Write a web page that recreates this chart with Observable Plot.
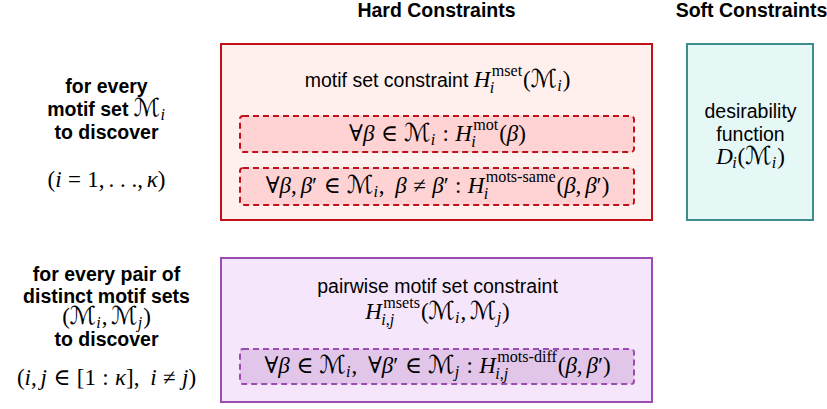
<!DOCTYPE html>
<html><head><meta charset="utf-8">
<script src="https://cdn.jsdelivr.net/npm/d3@7"></script>
<script src="https://cdn.jsdelivr.net/npm/@observablehq/plot@0.6"></script>
<style>
html,body{margin:0;padding:0;background:#fff;}
#chart svg{display:block;}
</style>
</head><body><div id="chart"></div>
<script>
// ---------------- content ----------------
const headers = ["Hard Constraints", "Soft Constraints"];
const scopeLabels = [
  ["for every", "motif set $ℳ_i$", "to discover"],
  ["for every pair of", "distinct motif sets", "$(ℳ_i, ℳ_j)$", "to discover"]
];
const scopeRanges = ["$(i = 1, …, κ)$", "$(i, j ∈ [1 : κ],~ i ≠ j)$"];
const hardTitles = [
  ["motif set constraint $H_i^{\\rm mset}(ℳ_i)$"],
  ["pairwise motif set constraint", "$H_{i,j}^{\\rm msets}(ℳ_i, ℳ_j)$"]
];
const hardParts = [
  ["$∀β ∈ ℳ_i : H_i^{\\rm mot}(β)$", "$∀β, β' ∈ ℳ_i,~ β ≠ β' : H_i^{\\rm mots-same}(β, β')$"],
  ["$∀β ∈ ℳ_i,~ ∀β' ∈ ℳ_j : H_{i,j}^{\\rm mots-diff}(β, β')$"]
];
const softTitles = ["desirability", "function", "$D_i(ℳ_i)$"];

// ---------------- layout (pixel units of the diagram) ----------------
const layout = {
  headerY: 16, headerX: [436, 751],
  labelX: 106,
  scopeY: [[92, 115, 138], [280, 302, 323, 345]],
  rangeY: [186, 384],
  hardX: [221, 652], hardY: [[44, 220], [258, 402]],
  softX: [687, 813], softY: [44, 220],
  partX: [240, 634], partY: [[[116, 152], [168, 205]], [[349, 384]]],
  boxCX: 437, softCX: 750,
  hardTitleY: [[86], [292, 318]],
  partTextY: [[140, 192], [372]],
  softTitleY: [117, 140, 163]
};
const colors = {
  hard: [{stroke: "#c0101a", fill: "#fff0ee", inner: "#ffd3d3"}, {stroke: "#9b4cb0", fill: "#f6e6fc", inner: "#e2c6ea"}],
  soft: {stroke: "#3f8c8c", fill: "#e6f8f6"}
};
const SANS = "'Liberation Sans', Arial, Helvetica, sans-serif";
const SERIF = "'Liberation Serif', 'DejaVu Serif', 'DejaVu Sans', serif";
const CAL = "'DejaVu Sans', 'DejaVu Serif', serif";
const TEXT_SIZE = 19.5, MATH_SIZE = 23, CAL_SCALE = 1.08;

// ---------------- tables built from content + layout ----------------
const outerBoxes = hardTitles.map((_, r) => ({x1: layout.hardX[0], x2: layout.hardX[1], y1: layout.hardY[r][0], y2: layout.hardY[r][1], r}));
const innerBoxes = hardParts.flatMap((parts, r) => parts.map((_, k) => ({x1: layout.partX[0], x2: layout.partX[1], y1: layout.partY[r][k][0], y2: layout.partY[r][k][1], r})));
const softBox = [{x1: layout.softX[0], x2: layout.softX[1], y1: layout.softY[0], y2: layout.softY[1]}];

const labels = [];
headers.forEach((t, k) => labels.push({t, x: layout.headerX[k], y: layout.headerY, bold: true}));
scopeLabels.forEach((lines, r) => lines.forEach((t, k) => labels.push({t, x: layout.labelX, y: layout.scopeY[r][k], bold: true})));
scopeRanges.forEach((t, r) => labels.push({t, x: layout.labelX, y: layout.rangeY[r], bold: false}));
hardTitles.forEach((lines, r) => lines.forEach((t, k) => labels.push({t, x: layout.boxCX, y: layout.hardTitleY[r][k], bold: false})));
hardParts.forEach((lines, r) => lines.forEach((t, k) => labels.push({t, x: layout.boxCX, y: layout.partTextY[r][k], bold: false})));
softTitles.forEach((t, k) => labels.push({t, x: layout.softCX, y: layout.softTitleY[k], bold: false}));

// ---------------- tiny math typesetter ----------------
const ctx = document.createElement("canvas").getContext("2d");
function measure(text, size, family, style = "normal", weight = "normal") {
  ctx.font = `${style} ${weight} ${size}px ${family}`;
  return ctx.measureText(text).width;
}
function mathAtoms(s) {
  const atoms = [];
  let i = 0;
  const readGroup = () => {
    if (s[i] === "{") {
      let depth = 1, j = i + 1;
      while (j < s.length && depth) { if (s[j] === "{") depth++; else if (s[j] === "}") depth--; j++; }
      const g = s.slice(i + 1, j - 1); i = j; return g;
    }
    return s[i++];
  };
  while (i < s.length) {
    const c = s[i];
    if (c === " ") { i++; continue; }
    if (c === "~") { atoms.push({kind: "space", em: 0.3}); i++; continue; }
    if (c === "_" || c === "^") { i++; const g = readGroup(); atoms[atoms.length - 1][c === "_" ? "sub" : "sup"] = g; continue; }
    if (c === "'") { atoms.push({kind: "ord", text: "′", font: "up"}); i++; continue; }
    if (c === "…") { atoms.push({kind: "ord", text: ". . .", font: "up"}); i++; continue; }
    if (c === "ℳ") { atoms.push({kind: "ord", text: c, font: "cal"}); i++; continue; }
    if (/[A-Za-zβκ]/.test(c)) { atoms.push({kind: "ord", text: c, font: "it"}); i++; continue; }
    if (c === ",") { atoms.push({kind: "punct", text: c, font: "up"}); i++; continue; }
    if ("∈=≠:".includes(c)) { atoms.push({kind: "rel", text: c, font: "up"}); i++; continue; }
    atoms.push({kind: "ord", text: c, font: "up"}); i++;
  }
  return atoms;
}
function scriptBox(g, size) {
  if (g.startsWith("\\rm ")) {
    const t = g.slice(4);
    return {runs: [{text: t, x: 0, dy: 0, size, family: SERIF, style: "normal"}], width: measure(t, size, SERIF)};
  }
  return layoutMath(mathAtoms(g), size, true);
}
function layoutMath(atoms, size, script) {
  let x = 0; const runs = [];
  atoms.forEach((a, k) => {
    if (a.kind === "space") { x += a.em * size; return; }
    if (a.kind === "rel" && !script && k > 0) x += 0.2778 * size;
    const fam = a.font === "cal" ? CAL : SERIF;
    const fs = a.font === "cal" ? size * CAL_SCALE : size;
    const style = a.font === "it" ? "italic" : "normal";
    const w = measure(a.text, fs, fam, style);
    runs.push({text: a.text, x, dy: 0, size: fs, family: fam, style});
    x += w;
    if (a.sub || a.sup) {
      const ss = size * 0.7;
      const ic = a.font === "it" ? size * 0.06 : 0;
      let wsup = 0, wsub = 0;
      if (a.sup) {
        const b = scriptBox(a.sup, ss);
        b.runs.forEach(r => runs.push({...r, x: x + ic + r.x, dy: r.dy - size * 0.45}));
        wsup = b.width + ic;
      }
      if (a.sub) {
        const b = scriptBox(a.sub, ss);
        const down = a.sup ? size * 0.3 : size * 0.18;
        b.runs.forEach(r => runs.push({...r, x: x - ic * 0.5 + r.x, dy: r.dy + down}));
        wsub = b.width - ic * 0.5;
      }
      x += Math.max(wsup, wsub) + size * 0.04;
    }
    if (a.kind === "rel" && !script) x += 0.2778 * size;
    if (a.kind === "punct" && !script) x += 0.1667 * size;
  });
  return {runs, width: x};
}
function richRuns(str, bold) {
  const parts = str.split("$");
  let x = 0; const runs = [];
  const weight = bold ? "bold" : "normal";
  parts.forEach((p, k) => {
    if (!p) return;
    if (k % 2 === 0) {
      runs.push({text: p, x, dy: 0, size: TEXT_SIZE, family: SANS, style: "normal", weight});
      x += measure(p, TEXT_SIZE, SANS, "normal", weight);
    } else {
      const b = layoutMath(mathAtoms(p), MATH_SIZE, false);
      b.runs.forEach(r => runs.push({...r, x: x + r.x}));
      x += b.width;
    }
  });
  return {runs, width: x};
}

// ---------------- plot ----------------
const plain = d => d.t.replace(/\$/g, "").replace(/\\rm /g, "").replace(/[{}~]/g, "");
const plot = Plot.plot({
  width: 827, height: 409, margin: 0,
  x: {domain: [0, 827], axis: null},
  y: {domain: [0, 409], reverse: true, axis: null},
  style: {background: "#ffffff", overflow: "visible"},
  marks: [
    ...colors.hard.map((c, r) => Plot.rect(outerBoxes.filter(d => d.r === r), {x1: "x1", x2: "x2", y1: "y1", y2: "y2", fill: c.fill, stroke: c.stroke, strokeWidth: 2})),
    ...colors.hard.map((c, r) => Plot.rect(innerBoxes.filter(d => d.r === r), {x1: "x1", x2: "x2", y1: "y1", y2: "y2", fill: c.inner, stroke: c.stroke, strokeWidth: 2, strokeDasharray: "6,4", rx: 3})),
    Plot.rect(softBox, {x1: "x1", x2: "x2", y1: "y1", y2: "y2", fill: colors.soft.fill, stroke: colors.soft.stroke, strokeWidth: 2}),
    Plot.text(labels, {x: "x", y: "y", text: plain, fontSize: TEXT_SIZE, fill: "#000"})
  ]
});
document.getElementById("chart").appendChild(plot);

// turn each text into positioned runs (sans text + typeset math)
const sx = plot.scale("x"), sy = plot.scale("y");
d3.select(plot).selectAll('g[aria-label="text"] text').each(function(_, k) {
  const d = labels[k];
  const {runs, width} = richRuns(d.t, d.bold);
  const el = d3.select(this);
  el.text(null).attr("x", null).attr("y", null).attr("dy", null)
    .attr("text-anchor", "start")
    .attr("transform", `translate(${sx.apply(d.x)},${sy.apply(d.y)})`);
  runs.forEach(r => {
    el.append("tspan")
      .attr("x", (r.x - width / 2).toFixed(2))
      .attr("y", r.dy.toFixed(2))
      .attr("font-size", r.size)
      .attr("font-family", r.family)
      .attr("font-style", r.style)
      .attr("font-weight", r.weight || "normal")
      .style("white-space", "pre")
      .text(r.text);
  });
});
</script>
</body></html>
